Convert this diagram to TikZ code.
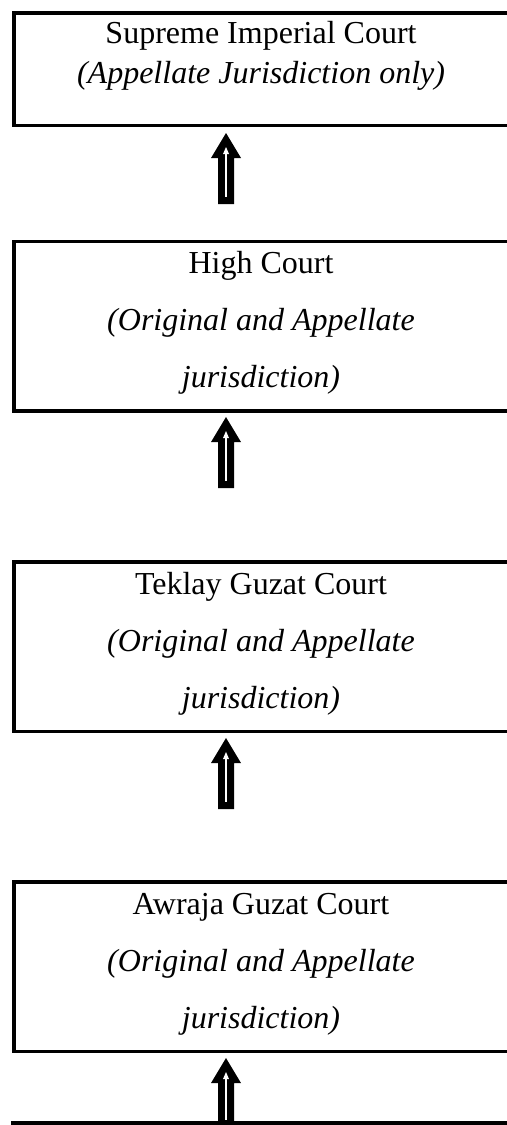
\documentclass[tikz,border=0pt]{standalone}
\usepackage{fontspec}
\setmainfont{Liberation Serif}
\begin{document}
\begin{tikzpicture}[x=0.5pt,y=-0.5pt,
  courtbox/.style={draw=black,line width=1.75pt,fill=none},
  title/.style={anchor=base,inner sep=0pt,font=\fontsize{16}{19}\selectfont},
  note/.style={title,font=\fontsize{16}{19}\selectfont\itshape},
  uparrow/.pic={
    % black block arrow pointing up, tip at the origin
    \fill[black] (0,0) -- (15,25) -- (8,25) -- (8,71) -- (-8,71) -- (-8,25) -- (-15,25) -- cycle;
    % thin white arrow inside it
    \draw[white,line width=1pt] (0,19) -- (0,64);
    \fill[white] (0,14) -- (3,21) -- (-3,21) -- cycle;
  }]
\useasboundingbox (0,0) rectangle (507,1125);
\clip (0,0) rectangle (507,1125);
\fill[white] (0,0) rectangle (507,1125);

% court boxes (the right side runs past the page edge)
\draw[courtbox] (14,13) rectangle (516,125.5);
\draw[courtbox] (14,241.5) rectangle (516,411);
\draw[courtbox] (14,562) rectangle (516,731.5);
\draw[courtbox] (14,882) rectangle (516,1051.5);
\draw[courtbox] (14,1123) rectangle (516,1300);

% box texts
\node[title] (sup1) at (261,43.5) {Supreme Imperial Court};
\node[note]  (sup2) at (261,83) {(Appellate Jurisdiction only)};

\node[title] (hc1) at (261,273) {High Court};
\node[note]  (hc2) at (261,330) {(Original and Appellate};
\node[note]  (hc3) at (261,387.5) {jurisdiction)};

\node[title] (tg1) at (261,594) {Teklay Guzat Court};
\node[note]  (tg2) at (261,651) {(Original and Appellate};
\node[note]  (tg3) at (261,708) {jurisdiction)};

\node[title] (ag1) at (261,914) {Awraja Guzat Court};
\node[note]  (ag2) at (261,971) {(Original and Appellate};
\node[note]  (ag3) at (261,1028) {jurisdiction)};

% appeal arrows
\coordinate (a1) at (226,133);
\coordinate (a2) at (226,417);
\coordinate (a3) at (226,738);
\coordinate (a4) at (226,1058);
\pic at (a1) {uparrow};
\pic at (a2) {uparrow};
\pic at (a3) {uparrow};
\pic at (a4) {uparrow};
\fill[black] (218,1120) rectangle (234,1125);
\draw[line width=1.75pt] (11,1123) -- (516,1123);
\end{tikzpicture}
\end{document}
